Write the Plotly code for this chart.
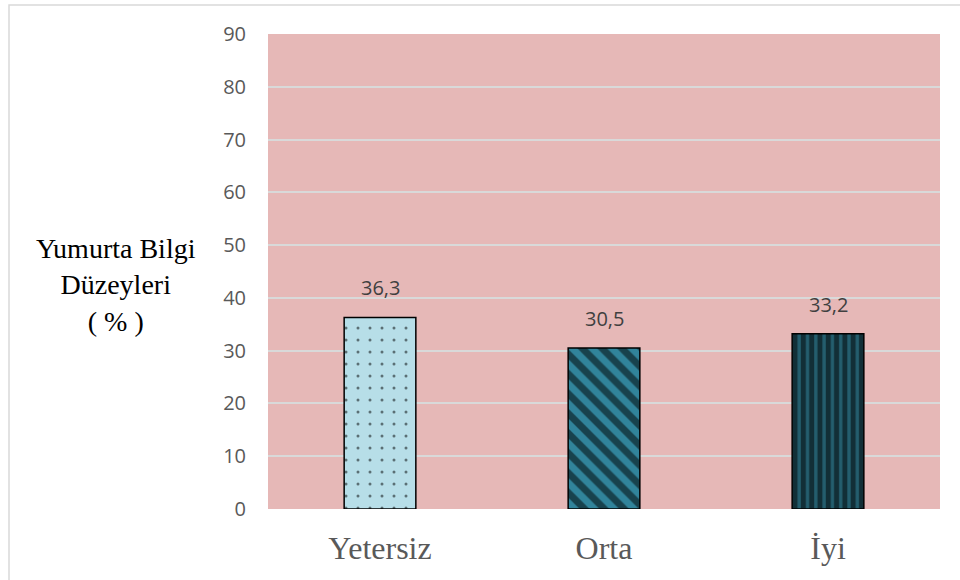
import plotly.graph_objects as go

# Knowledge level categories and their shares (%)
categories = ["Yetersiz", "Orta", "İyi"]
values = [36.3, 30.5, 33.2]
y_ticks = [0, 10, 20, 30, 40, 50, 60, 70, 80, 90]

# Fill style per bar
bg_colors = ["#B7DEE8", "#31849B", "#245E6E"]
pattern_shapes = [".", "\\", "|"]
pattern_sizes = [12, 14, 8.3]
pattern_solidity = [0.05, 0.5, 0.6]

fig = go.Figure()

for cat, val, bg, shp, sz, sol in zip(categories, values, bg_colors,
                                       pattern_shapes, pattern_sizes, pattern_solidity):
    fig.add_trace(go.Bar(
        x=[cat], y=[val],
        width=0.32,
        marker=dict(
            color=bg,
            line=dict(color="black", width=1.5),
            pattern=dict(shape=shp, fgcolor="black", bgcolor=bg,
                         size=sz, solidity=sol, fillmode="overlay"),
        ),
        showlegend=False,
        hoverinfo="skip",
    ))
    fig.add_annotation(
        x=cat, y=val, xref="x", yref="y",
        text=f"{val:.1f}".replace(".", ","),
        showarrow=False, yanchor="bottom", yshift=14,
        font=dict(family="Open Sans", size=20, color="#404040"),
    )

# Axis title drawn horizontally to the left of the tick labels
fig.add_annotation(
    x=-0.2262, y=0.4716, xref="paper", yref="paper",
    text="Yumurta Bilgi<br>Düzeyleri<br>( % )",
    showarrow=False, align="center", xanchor="center", yanchor="middle",
    font=dict(family="Liberation Serif", size=28, color="black"),
)

# Light frame around the chart area
fig.add_shape(
    type="rect", xref="paper", yref="paper",
    x0=-0.3854, y0=-0.3, x1=1.2, y1=1.061,
    line=dict(color="#D9D9D9", width=1.5), fillcolor="rgba(0,0,0,0)", layer="below",
)

fig.update_layout(
    width=960, height=580,
    margin=dict(l=268, r=20, t=34, b=71),
    paper_bgcolor="white",
    plot_bgcolor="#E6B8B7",
    bargap=0.68,
    separators=",.",
    xaxis=dict(
        categoryorder="array", categoryarray=categories,
        showgrid=False, zeroline=False, showline=False, ticks="",
        ticklabelstandoff=17,
        tickfont=dict(family="Liberation Serif", size=32, color="#595959"),
    ),
    yaxis=dict(
        range=[0, 90], tickvals=y_ticks,
        showgrid=True, gridcolor="#D9D9D9", gridwidth=1.5,
        zeroline=False, showline=False, ticks="",
        ticklabelstandoff=21,
        tickfont=dict(family="Open Sans", size=20, color="#595959"),
    ),
)

fig.write_html("out.html")
